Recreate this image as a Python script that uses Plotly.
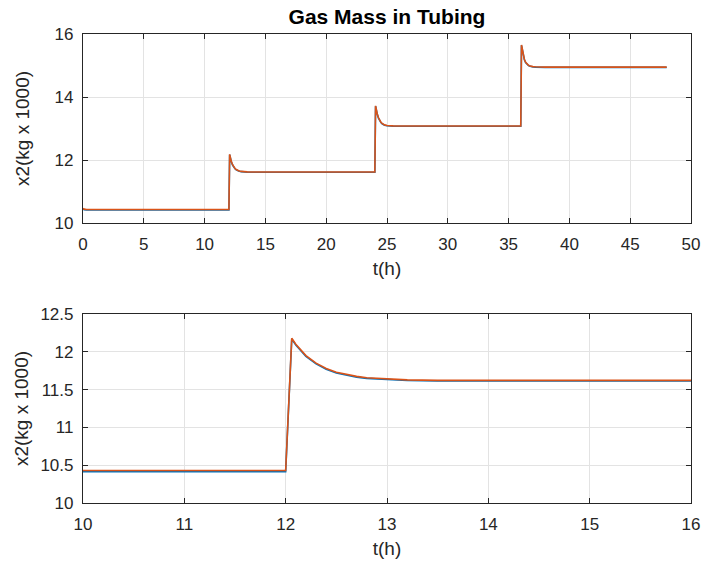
import plotly.graph_objects as go

# Time (h) and gas mass in tubing x2 (kg x 1000)
t_orange = [0.0, 0.1, 0.3, 12.0, 12.06, 12.1, 12.15, 12.2, 12.3, 12.4, 12.5, 12.6, 12.7, 12.8, 13.0, 13.2, 13.5, 14.0,
            24.0, 24.06, 24.1, 24.15, 24.2, 24.3, 24.4, 24.5, 24.6, 24.7, 24.8, 25.0, 25.2, 25.5, 26.0,
            36.0, 36.06, 36.1, 36.15, 36.2, 36.3, 36.4, 36.5, 36.6, 36.7, 36.8, 37.0, 37.2, 37.5, 38.0, 48.0]
x2_orange = [10.46, 10.44, 10.43, 10.43, 12.18, 12.10, 12.02, 11.95, 11.85, 11.78, 11.73, 11.70, 11.675, 11.657, 11.638, 11.628, 11.622, 11.62,
             11.62, 13.72, 13.63, 13.54, 13.46, 13.34, 13.26, 13.20, 13.16, 13.13, 13.115, 13.097, 13.088, 13.083, 13.08,
             13.08, 15.65, 15.55, 15.43, 15.33, 15.19, 15.10, 15.05, 15.02, 14.995, 14.98, 14.965, 14.958, 14.953, 14.95, 14.95]

t_blue = [0.0, 0.1, 0.3, 12.0, 12.06, 12.1, 12.15, 12.2, 12.3, 12.4, 12.5, 12.6, 12.7, 12.8, 13.0, 13.2, 13.5, 14.0,
          24.0, 24.06, 24.1, 24.15, 24.2, 24.3, 24.4, 24.5, 24.6, 24.7, 24.8, 25.0, 25.2, 25.5, 26.0,
          36.0, 36.06, 36.1, 36.15, 36.2, 36.3, 36.4, 36.5, 36.6, 36.7, 36.8, 37.0, 37.2, 37.5, 38.0, 48.0]
x2_blue = [10.44, 10.42, 10.415, 10.415, 12.17, 12.09, 12.01, 11.94, 11.84, 11.77, 11.72, 11.69, 11.665, 11.648, 11.63, 11.62, 11.615, 11.612,
           11.612, 13.71, 13.62, 13.53, 13.45, 13.33, 13.25, 13.19, 13.15, 13.12, 13.105, 13.088, 13.079, 13.074, 13.072,
           13.072, 15.64, 15.54, 15.42, 15.32, 15.18, 15.09, 15.04, 15.01, 14.985, 14.97, 14.955, 14.948, 14.944, 14.942, 14.942]

title_text = "Gas Mass in Tubing"
x_label = "t(h)"
y_label = "x2(kg x 1000)"

BLUE = "#0072BD"
ORANGE = "#D95319"
AX = "#262626"
GRID = "#e3e3e3"
FONT = "Liberation Sans, Arial, Helvetica, sans-serif"

fig = go.Figure()
for xa, ya in [("x", "y"), ("x2", "y2")]:
    fig.add_trace(go.Scatter(x=t_blue, y=x2_blue, mode="lines", line=dict(color=BLUE, width=1.6),
                             xaxis=xa, yaxis=ya, showlegend=False))
    fig.add_trace(go.Scatter(x=t_orange, y=x2_orange, mode="lines", line=dict(color=ORANGE, width=1.6),
                             xaxis=xa, yaxis=ya, showlegend=False))

common = dict(showline=True, linecolor=AX, linewidth=1.2, mirror="ticks", ticks="inside", ticklen=5,
              tickcolor=AX, tickwidth=1.2, showgrid=True, gridcolor=GRID, gridwidth=1, zeroline=False,
              automargin=False, ticklabelstandoff=5, tickfont=dict(family=FONT, size=17, color=AX))
tfont = dict(family=FONT, size=19, color=AX)

fig.update_layout(
    width=702, height=564,
    margin=dict(l=83, r=11, t=34, b=61),
    plot_bgcolor="white", paper_bgcolor="white",
    font=dict(family=FONT, size=17, color=AX),
    title=dict(text="<b>" + title_text + "</b>", x=0.5, xref="paper", xanchor="center",
               y=1 - 17 / 564, yanchor="middle", font=dict(family=FONT, size=21, color="black"),
               automargin=False),
    xaxis=dict(domain=[0, 1], anchor="y", range=[0, 50], dtick=5, tick0=0,
               title=dict(text=x_label, standoff=9, font=tfont), **common),
    yaxis=dict(domain=[0.597, 1], anchor="x", range=[10, 16], dtick=2, tick0=10,
               title=dict(text=y_label, standoff=19, font=tfont), **common),
    xaxis2=dict(domain=[0, 1], anchor="y2", range=[10, 16], dtick=1, tick0=10,
                title=dict(text=x_label, standoff=9, font=tfont), **common),
    yaxis2=dict(domain=[0, 0.403], anchor="x2", range=[10, 12.5], dtick=0.5, tick0=10,
                title=dict(text=y_label, standoff=6, font=tfont), **common),
)

fig.write_html("out.html")
